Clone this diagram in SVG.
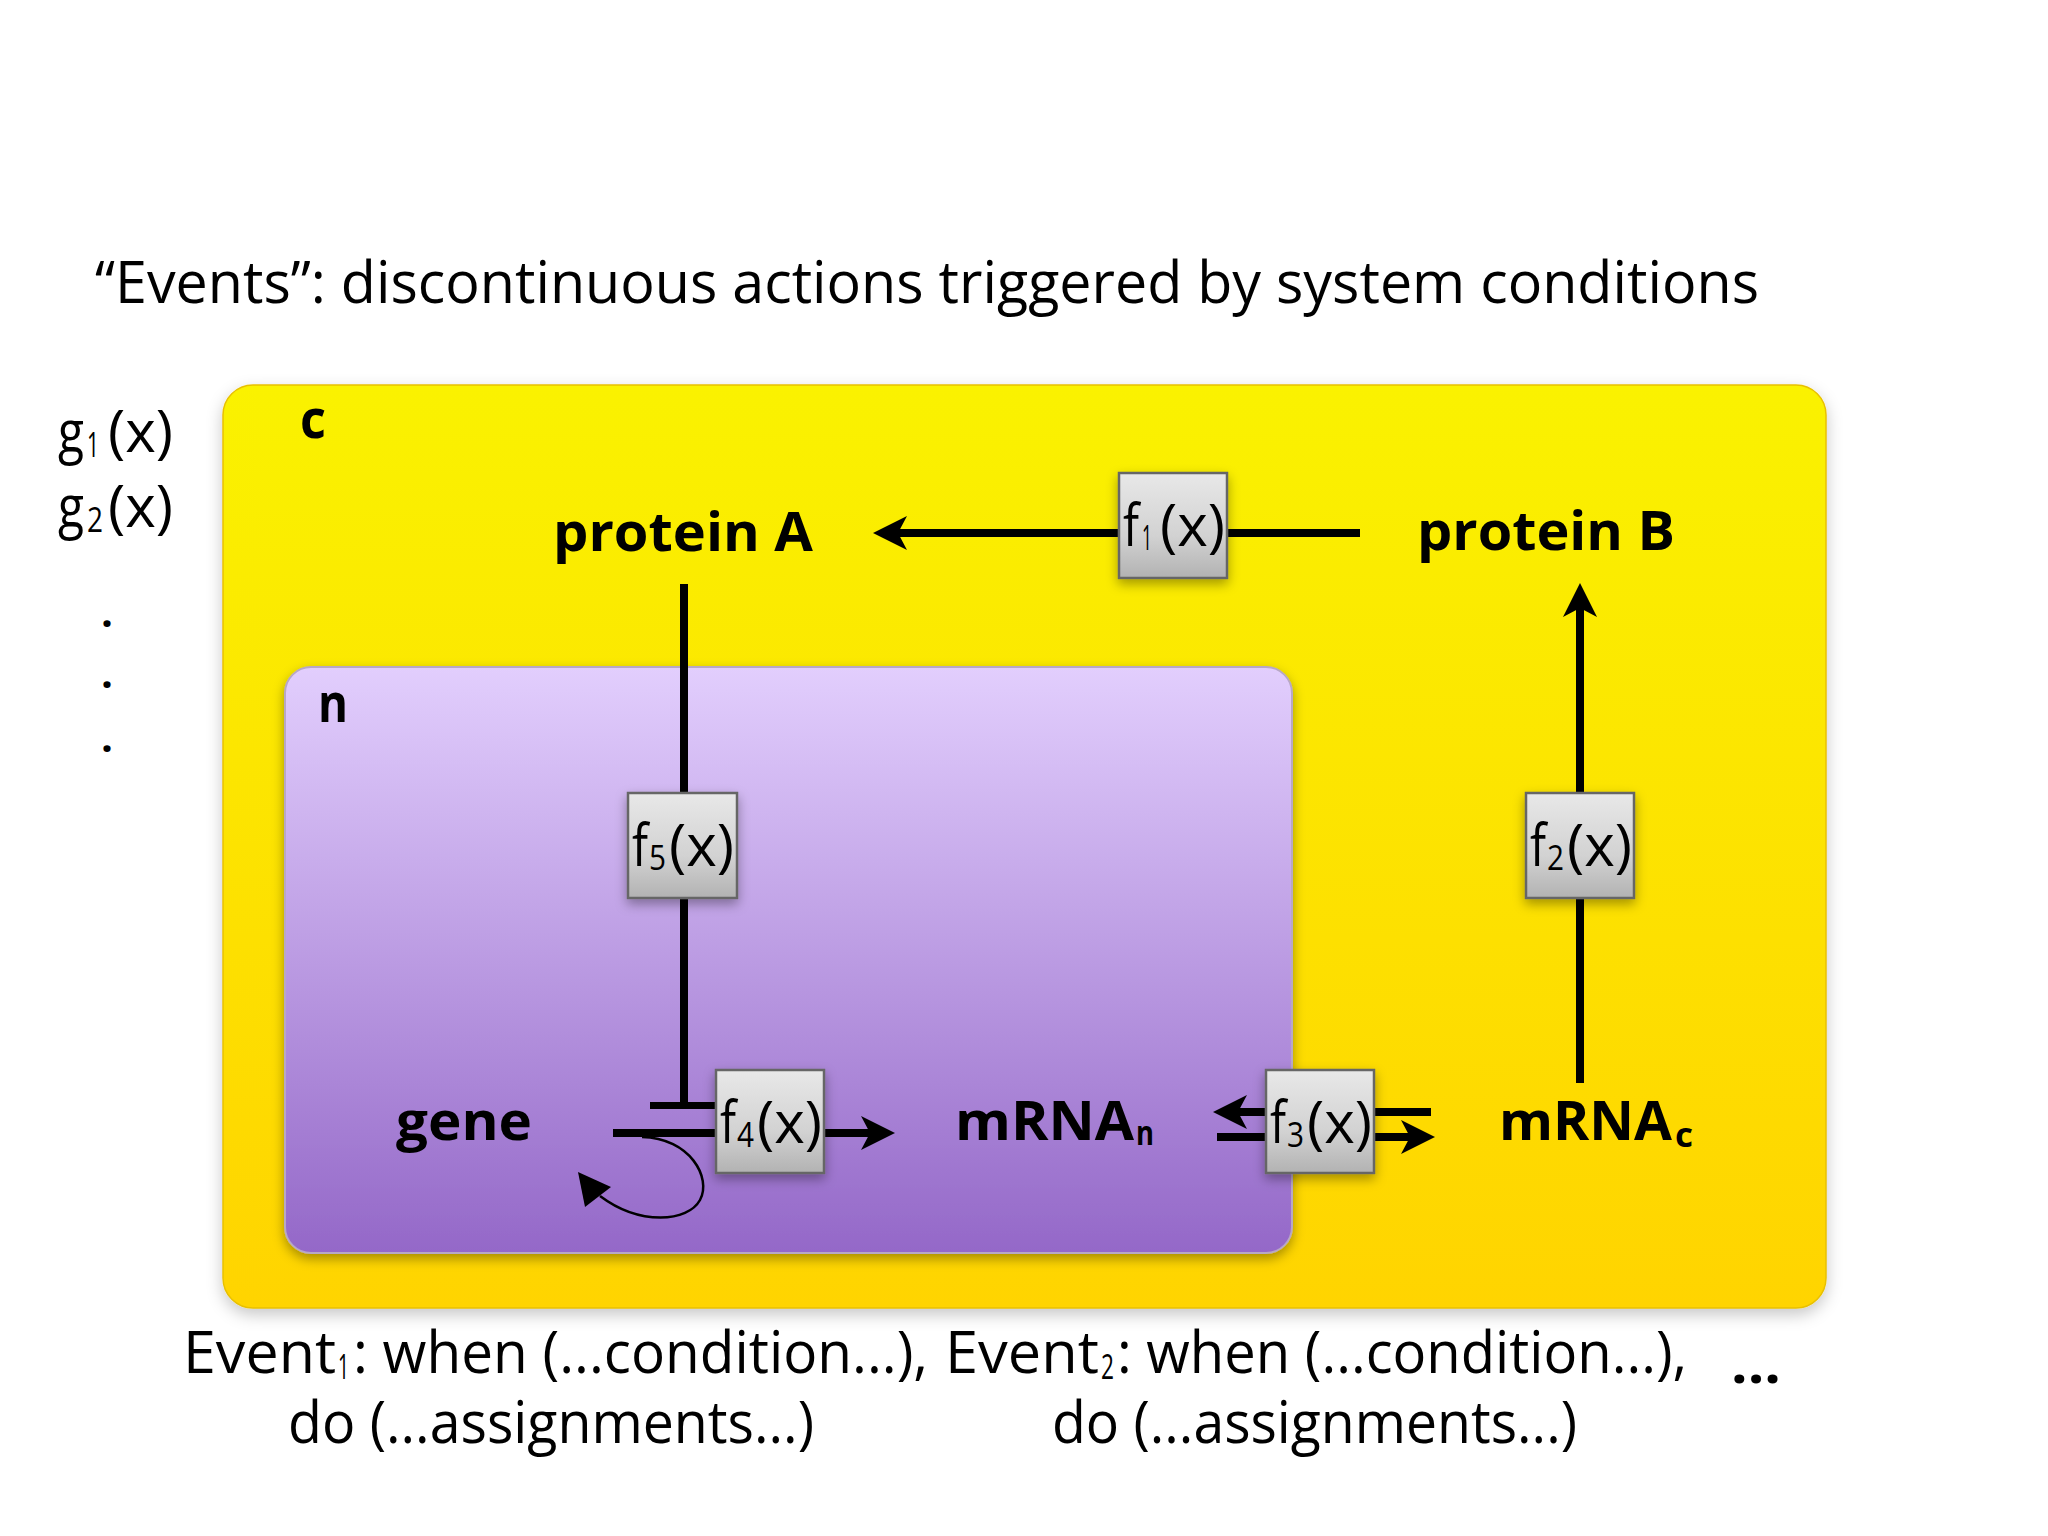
<svg xmlns="http://www.w3.org/2000/svg" width="2048" height="1536" viewBox="0 0 2048 1536">
<defs>
<style>
.reg{font-family:"Open Sans","Liberation Sans",sans-serif;font-size:58px;fill:#000}
.sub{font-size:34px}
.lbl{font-family:"Open Sans","Liberation Sans",sans-serif;font-weight:700;font-size:53px;fill:#000}
.lsub{font-size:34px}
.dot{font-family:"Open Sans","Liberation Sans",sans-serif;font-weight:700;font-size:42px;fill:#000}
.ln{stroke:#000;stroke-width:8;fill:none}
.box{fill:url(#gBox);stroke:#666;stroke-width:2.5;filter:url(#sh)}
</style>
<linearGradient id="gYel" x1="0" y1="0" x2="0" y2="1">
<stop offset="0" stop-color="#FAF200"/>
<stop offset="1" stop-color="#FFD400"/>
</linearGradient>
<linearGradient id="gPur" x1="0" y1="0" x2="0" y2="1">
<stop offset="0" stop-color="#E2CEFD"/>
<stop offset="1" stop-color="#9468C8"/>
</linearGradient>
<linearGradient id="gBox" x1="0" y1="0" x2="0" y2="1">
<stop offset="0" stop-color="#E8E8E8"/>
<stop offset="0.6" stop-color="#D2D2D2"/>
<stop offset="1" stop-color="#B2B2B2"/>
</linearGradient>
<filter id="sh" x="-30%" y="-30%" width="160%" height="170%">
<feDropShadow dx="0" dy="5" stdDeviation="6" flood-color="#000" flood-opacity="0.35"/>
</filter>
<filter id="shBig" x="-5%" y="-5%" width="110%" height="115%">
<feDropShadow dx="0" dy="6" stdDeviation="8" flood-color="#000" flood-opacity="0.22"/>
</filter>
<marker id="ah" viewBox="0 0 34 34" refX="14" refY="17" markerWidth="34" markerHeight="34" markerUnits="userSpaceOnUse" orient="auto">
<path d="M34,17 L0,0 L9,17 L0,34 Z" fill="#000"/>
</marker>
</defs>

<rect width="2048" height="1536" fill="#fff"/>

<g id="title">
<text class="reg" x="95" y="303" textLength="1664" lengthAdjust="spacingAndGlyphs">“Events”: discontinuous actions triggered by system conditions</text>
</g>

<g id="g-functions">
<text class="reg"><tspan x="58" y="452" textLength="26" lengthAdjust="spacingAndGlyphs">g</tspan><tspan class="sub" x="87" y="457" textLength="12" lengthAdjust="spacingAndGlyphs">1</tspan><tspan x="108" y="452" textLength="65" lengthAdjust="spacingAndGlyphs">(x)</tspan></text>
<text class="reg"><tspan x="58" y="527" textLength="26" lengthAdjust="spacingAndGlyphs">g</tspan><tspan class="sub" x="87" y="532" textLength="16" lengthAdjust="spacingAndGlyphs">2</tspan><tspan x="108" y="527" textLength="65" lengthAdjust="spacingAndGlyphs">(x)</tspan></text>
<text class="dot" x="107" y="627" text-anchor="middle">.</text>
<text class="dot" x="107" y="688" text-anchor="middle">.</text>
<text class="dot" x="107" y="752" text-anchor="middle">.</text>
</g>

<g id="compartment-c">
<rect x="223" y="385" width="1603" height="923" rx="30" ry="30" fill="url(#gYel)" stroke="#E8C000" stroke-width="1.5" filter="url(#shBig)"/>
<text class="lbl" x="300" y="438" textLength="26" lengthAdjust="spacingAndGlyphs">c</text>
</g>

<g id="compartment-n">
<rect x="285" y="667" width="1007" height="586" rx="26" ry="26" fill="url(#gPur)" stroke="#B8A8C4" stroke-width="2" filter="url(#sh)"/>
<text class="lbl" x="318" y="722" textLength="30" lengthAdjust="spacingAndGlyphs">n</text>
</g>

<g id="connectors">
<path class="ln" d="M1360,533 L1119,533"/>
<path class="ln" d="M1119,533 L893,533" marker-end="url(#ah)"/>
<path class="ln" d="M684,584 L684,1103"/>
<path class="ln" d="M650,1105.5 L716,1105.5" style="stroke-width:7"/>
<path class="ln" d="M613,1133 L716,1133"/>
<path class="ln" d="M824,1133 L875,1133" marker-end="url(#ah)"/>
<path class="ln" d="M1266,1112 L1233,1112" marker-end="url(#ah)"/>
<path class="ln" d="M1217,1137 L1266,1137"/>
<path class="ln" d="M1374,1112 L1431,1112"/>
<path class="ln" d="M1374,1137 L1415,1137" marker-end="url(#ah)"/>
<path class="ln" d="M1580,1083 L1580,898"/>
<path class="ln" d="M1580,793 L1580,603" marker-end="url(#ah)"/>
<path d="M642,1137 C690,1138 712,1178 700,1200 C688,1222 640,1226 600,1196" fill="none" stroke="#000" stroke-width="2.5"/>
<polygon points="578,1172 585,1207 611,1187" fill="#000"/>
</g>

<g id="protein-a">
<text class="lbl" x="553" y="551" textLength="260" lengthAdjust="spacingAndGlyphs">protein A</text>
</g>
<g id="protein-b">
<text class="lbl" x="1417" y="550" textLength="258" lengthAdjust="spacingAndGlyphs">protein B</text>
</g>
<g id="gene">
<text class="lbl" x="396" y="1140" textLength="136" lengthAdjust="spacingAndGlyphs">gene</text>
</g>
<g id="mrna-n">
<text class="lbl"><tspan x="955" y="1140" textLength="179" lengthAdjust="spacingAndGlyphs">mRNA</tspan><tspan class="lsub" x="1136" y="1145" textLength="18" lengthAdjust="spacingAndGlyphs">n</tspan></text>
</g>
<g id="mrna-c">
<text class="lbl"><tspan x="1499" y="1140" textLength="173" lengthAdjust="spacingAndGlyphs">mRNA</tspan><tspan class="lsub" x="1675" y="1147" textLength="18" lengthAdjust="spacingAndGlyphs">c</tspan></text>
</g>

<g id="f1">
<rect class="box" x="1119" y="473" width="108" height="105"/>
<text class="reg"><tspan x="1123" y="546" textLength="16" lengthAdjust="spacingAndGlyphs">f</tspan><tspan class="sub" x="1142" y="550" textLength="10" lengthAdjust="spacingAndGlyphs">1</tspan><tspan x="1160" y="546" textLength="65" lengthAdjust="spacingAndGlyphs">(x)</tspan></text>
</g>
<g id="f2">
<rect class="box" x="1526" y="793" width="108" height="105"/>
<text class="reg"><tspan x="1530" y="866" textLength="16" lengthAdjust="spacingAndGlyphs">f</tspan><tspan class="sub" x="1547" y="870" textLength="17" lengthAdjust="spacingAndGlyphs">2</tspan><tspan x="1567" y="866" textLength="65" lengthAdjust="spacingAndGlyphs">(x)</tspan></text>
</g>
<g id="f3">
<rect class="box" x="1266" y="1070" width="108" height="103"/>
<text class="reg"><tspan x="1270" y="1143" textLength="16" lengthAdjust="spacingAndGlyphs">f</tspan><tspan class="sub" x="1287" y="1147" textLength="17" lengthAdjust="spacingAndGlyphs">3</tspan><tspan x="1307" y="1143" textLength="65" lengthAdjust="spacingAndGlyphs">(x)</tspan></text>
</g>
<g id="f4">
<rect class="box" x="716" y="1070" width="108" height="103"/>
<text class="reg"><tspan x="720" y="1143" textLength="16" lengthAdjust="spacingAndGlyphs">f</tspan><tspan class="sub" x="737" y="1147" textLength="17" lengthAdjust="spacingAndGlyphs">4</tspan><tspan x="757" y="1143" textLength="65" lengthAdjust="spacingAndGlyphs">(x)</tspan></text>
</g>
<g id="f5">
<rect class="box" x="628" y="793" width="109" height="105"/>
<text class="reg"><tspan x="632" y="866" textLength="16" lengthAdjust="spacingAndGlyphs">f</tspan><tspan class="sub" x="649" y="870" textLength="17" lengthAdjust="spacingAndGlyphs">5</tspan><tspan x="669" y="866" textLength="65" lengthAdjust="spacingAndGlyphs">(x)</tspan></text>
</g>

<g id="events">
<text class="reg"><tspan x="183" y="1373" textLength="153" lengthAdjust="spacingAndGlyphs">Event</tspan><tspan class="sub" x="338" y="1379" textLength="11" lengthAdjust="spacingAndGlyphs">1</tspan><tspan x="353" y="1373" textLength="575" lengthAdjust="spacingAndGlyphs">: when (...condition...),</tspan><tspan x="945" y="1373" textLength="154" lengthAdjust="spacingAndGlyphs">Event</tspan><tspan class="sub" x="1101" y="1379" textLength="13" lengthAdjust="spacingAndGlyphs">2</tspan><tspan x="1117" y="1373" textLength="570" lengthAdjust="spacingAndGlyphs">: when (...condition...),</tspan><tspan x="288" y="1443" textLength="526" lengthAdjust="spacingAndGlyphs">do (...assignments...)</tspan><tspan x="1052" y="1443" textLength="525" lengthAdjust="spacingAndGlyphs">do (...assignments...)</tspan></text>
<text class="lbl" x="1731" y="1383" textLength="50" lengthAdjust="spacingAndGlyphs">...</text>
</g>
</svg>
